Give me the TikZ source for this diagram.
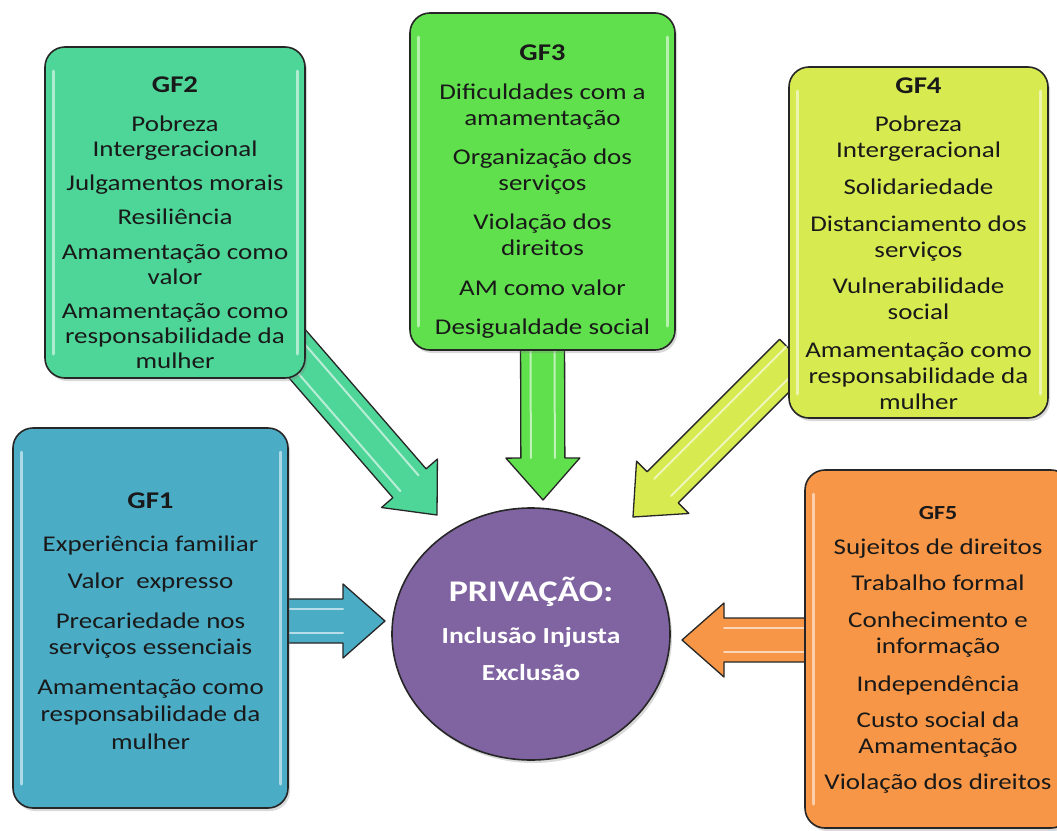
\documentclass[tikz,border=0pt]{standalone}
\usepackage{fontspec}
\newfontfamily\gffont{Carlito}[FakeStretch=1.2]
\usepackage{tikz}
\usetikzlibrary{calc, shapes.geometric, shadows, backgrounds}

\definecolor{gfone}{RGB}{75,172,198}
\definecolor{gftwo}{RGB}{78,213,152}
\definecolor{gfthree}{RGB}{96,224,76}
\definecolor{gffour}{RGB}{215,234,80}
\definecolor{gffive}{RGB}{247,150,70}
\definecolor{privacao}{RGB}{128,100,162}

% block arrow sizes
\newcommand{\shaftw}{22pt}
\newcommand{\headw}{37pt}
\newcommand{\headlen}{42pt}

% block arrow from #1 to #2, filled with #3
\newcommand{\fatarrow}[3]{%
  \coordinate (fa-h) at ($(#2)!\headlen!(#1)$);
  \filldraw[fat, fill=#3] ($(#1)!\shaftw!90:(#2)$) -- ($(fa-h)!\shaftw!-90:(#1)$)
    -- ($(fa-h)!\headw!-90:(#1)$) -- (#2) -- ($(fa-h)!\headw!90:(#1)$)
    -- ($(fa-h)!\shaftw!90:(#1)$) -- ($(#1)!\shaftw!-90:(#2)$) -- cycle;
  \draw[shine] ($(#1)!12pt!90:(#2)$) -- ($(fa-h)!12pt!-90:(#1)$);
  \draw[shine] ($(#1)!12pt!-90:(#2)$) -- ($(fa-h)!12pt!90:(#1)$);
}

\newcommand{\gft}[1]{{\bfseries\fontsize{24}{26}\selectfont #1}}

\begin{document}
\begin{tikzpicture}[
    x=1pt, y=-1pt,
    box/.style={rectangle, draw=black!85, line width=1.6pt, rounded corners=20pt, fill=#1,
      drop shadow={shadow xshift=2pt, shadow yshift=-3pt, opacity=.3},
      path picture={
        \draw[white, opacity=.55, line width=3pt, line cap=round]
          ([xshift=8pt,yshift=-24pt]path picture bounding box.north west) -- ([xshift=8pt,yshift=24pt]path picture bounding box.south west);
        \draw[white, opacity=.55, line width=3pt, line cap=round]
          ([xshift=-8pt,yshift=-24pt]path picture bounding box.north east) -- ([xshift=-8pt,yshift=24pt]path picture bounding box.south east);
      }},
    gftext/.style={align=center, inner sep=0pt, text=black!90,
      font=\gffont\fontsize{22.5}{26}\selectfont},
    fat/.style={draw=black!85, line width=1.3pt, line join=round},
    shine/.style={white, opacity=.6, line width=2pt, line cap=round},
    centre/.style={ellipse, draw=black!85, line width=1.6pt, fill=privacao, text=white,
      minimum width=278, minimum height=252, align=center,
      drop shadow={shadow xshift=2pt, shadow yshift=-3pt, opacity=.3},
      font=\gffont\bfseries\fontsize{23}{37}\selectfont}
]
\useasboundingbox (0,0) rectangle (1057,830);
\clip (0,0) rectangle (1057,830);

% the five groups
\node[box=gftwo, minimum width=260, minimum height=331] (gf2) at (175,212.5) {};
\node[box=gfthree, minimum width=265, minimum height=337] (gf3) at (542.5,181.5) {};
\node[box=gffour, minimum width=259, minimum height=351] (gf4) at (918.5,242.5) {};
\node[box=gfone, minimum width=275, minimum height=380] (gf1) at (150.5,618) {};
\node[box=gffive, minimum width=266, minimum height=358] (gf5) at (938,649) {};

\node[gftext, anchor=north] (gf2-txt) at ($(gf2.north)+(0,30)$) {\gft{GF2}\\[13pt]
  Pobreza\\[-1pt]Intergeracional\\[8.5pt]
  Julgamentos morais\\[8pt]
  Resiliência\\[9pt]
  Amamentação como\\[-1pt]valor\\[8pt]
  Amamentação como\\[-1pt]responsabilidade da\\[-1pt]mulher};
\node[gftext, anchor=north] (gf3-txt) at ($(gf3.north)+(0,32)$) {\gft{GF3}\\[13.5pt]
  Dificuldades com a\\amamentação\\[13pt]
  Organização dos\\serviços\\[13pt]
  Violação dos\\direitos\\[14pt]
  AM como valor\\[12.5pt]
  Desigualdade social};
\node[gftext, anchor=north] (gf4-txt) at ($(gf4.north)+(0,11)$) {\gft{GF4}\\[12.5pt]
  Pobreza\\Intergeracional\\[10.5pt]
  Solidariedade\\[11pt]
  Distanciamento dos\\serviços\\[10.5pt]
  Vulnerabilidade\\social\\[12pt]
  Amamentação como\\responsabilidade da\\mulher};
\node[gftext, anchor=north] (gf1-txt) at ($(gf1.north)+(0,65)$) {\gft{GF1}\\[17pt]
  Experiência familiar\\[11pt]
  Valor\ \ expresso\\[14pt]
  Precariedade nos\\serviços essenciais\\[14pt]
  Amamentação como\\[1pt]responsabilidade da\\[2pt]mulher};
\node[gftext, anchor=north] (gf5-txt) at ($(gf5.north)+(0,37)$) {{\bfseries\fontsize{20}{22}\selectfont GF5}\\[9pt]
  Sujeitos de direitos\\[10pt]
  Trabalho formal\\[11pt]
  Conhecimento e\\informação\\[12pt]
  Independência\\[10pt]
  Custo social da\\Amamentação\\[10pt]
  Violação dos direitos};

% centre
\node[centre] (priv) at (531,634) {{\fontsize{30}{32}\selectfont PRIVAÇÃO:}\\[5pt]
  Inclusão Injusta\\ Exclusão\\[-26pt]{}};

% arrows towards the centre
\coordinate (gf2-exit) at ($(gf2.south east)+(-19,-37)$);
\coordinate (gf3-exit) at ($(gf3.south)+(0,-20)$);
\coordinate (gf4-exit) at ($(gf4.south west)+(7,-64)$);
\coordinate (gf1-exit) at ($(gf1.east)+(-20,3)$);
\coordinate (gf5-exit) at ($(gf5.west)+(20,-9)$);
\coordinate (gf2-tip) at (437,515);
\coordinate (gf3-tip) at (543,500);
\coordinate (gf4-tip) at (633,517);
\coordinate (gf1-tip) at (385,621);
\coordinate (gf5-tip) at (682,640);

\begin{scope}[on background layer]
\fatarrow{gf2-exit}{gf2-tip}{gftwo}
\fatarrow{gf3-exit}{gf3-tip}{gfthree}
\fatarrow{gf4-exit}{gf4-tip}{gffour}
\fatarrow{gf1-exit}{gf1-tip}{gfone}
\fatarrow{gf5-exit}{gf5-tip}{gffive}
\end{scope}
\end{tikzpicture}
\end{document}
